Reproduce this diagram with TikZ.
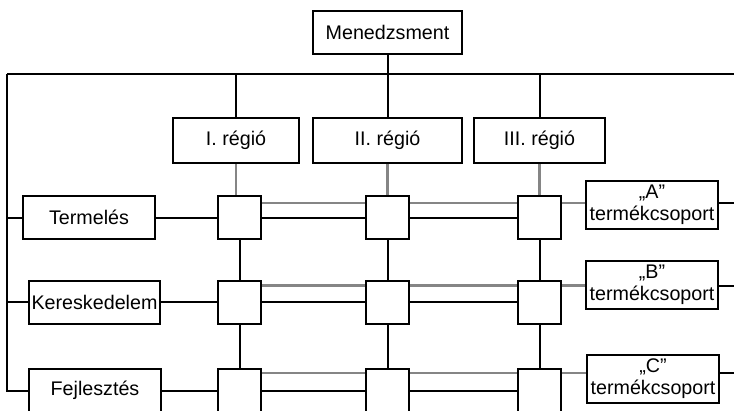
\documentclass[tikz,border=0pt]{standalone}
\usepackage{fontspec}
\setmainfont{Liberation Sans}
\definecolor{linegray}{HTML}{858585}
\begin{document}
\begin{tikzpicture}[x=1pt,y=-1pt,
  box/.style={draw=black,line width=2pt,fill=white,inner sep=0pt,
    font=\fontsize{19.7}{22}\selectfont,align=center,minimum height=43pt},
  sqbox/.style={draw=black,line width=2pt,fill=white,minimum width=43pt,
    minimum height=43pt,inner sep=0pt},
  blk/.style={draw=black,line width=2pt},
  gry/.style={draw=linegray,line width=2.2pt}]
\useasboundingbox (0,0) rectangle (734,410);
\clip (0,0) rectangle (734,410);

% nodes
\node[box,minimum width=149pt] (mgmt) at (387.5,32.5) {Menedzsment};
\node[box,minimum width=126pt,minimum height=45pt] (r1) at (236,140.5) {I. régió};
\node[box,minimum width=149pt,minimum height=45pt] (r2) at (387.5,140.5) {II. régió};
\node[box,minimum width=131pt,minimum height=45pt] (r3) at (539.5,140.5) {III. régió};

\node[box,minimum width=132pt] (f1) at (89,217.5) {Termelés};
\node[box,minimum width=131pt] (f2) at (94.5,302) {Kereskedelem};
\node[box,minimum width=132pt] (f3) at (95,390.5) {Fejlesztés};

\foreach \r/\y in {1/217.5,2/302,3/390.5}{
  \node[sqbox] (sq\r1) at (239.5,\y) {};
  \node[sqbox] (sq\r2) at (387.5,\y) {};
  \node[sqbox] (sq\r3) at (539.5,\y) {};
}

\node[box,minimum width=132pt,minimum height=48pt] (pA) at (652,204.5) {„A”\\termékcsoport};
\node[box,minimum width=132pt,minimum height=48pt] (pB) at (652,285) {„B”\\termékcsoport};
\node[box,minimum width=132pt,minimum height=48pt] (pC) at (653,379) {„C”\\termékcsoport};

% top structure
\coordinate (T0) at (7,74);
\coordinate (TR) at (734,74);
\draw[blk] (T0) -- (TR);
\draw[blk] (mgmt.south) -- (r2.north);
\draw[blk] (r1.north |- T0) -- (r1.north);
\draw[blk] (r3.north |- T0) -- (r3.north);
\draw[blk] (T0) |- (f3.west);
\draw[blk] (f1.west -| T0) -- (f1.west);
\draw[blk] (f2.west -| T0) -- (f2.west);

% region to matrix (grey)
\draw[gry] (r1.south) -- (r1.south |- sq11.north);
\draw[gry] (r2.south) -- (r2.south |- sq12.north);
\draw[gry] (r3.south) -- (r3.south |- sq13.north);

% vertical black between squares
\foreach \c in {1,2,3}{
  \draw[blk] (sq1\c.south) -- (sq2\c.north);
  \draw[blk] (sq2\c.south) -- (sq3\c.north);
}

% rows
\foreach \r/\p/\o in {1/pA/8,2/pB/6,3/pC/5}{
  \draw[blk] (f\r.east) -- (sq\r1.west);
  \draw[blk] (sq\r1.east) -- (sq\r2.west);
  \draw[blk] (sq\r2.east) -- (sq\r3.west);
  \coordinate (ga\r) at ([yshift=-\o pt]sq\r1.north east);
  \draw[gry] (ga\r) -- (ga\r -| sq\r2.west);
  \draw[gry] (ga\r -| sq\r2.east) -- (ga\r -| sq\r3.west);
  \draw[gry] (ga\r -| sq\r3.east) -- (ga\r -| \p.west);
  \draw[blk] (ga\r -| \p.east) -- (ga\r -| TR);
}
\end{tikzpicture}
\end{document}
